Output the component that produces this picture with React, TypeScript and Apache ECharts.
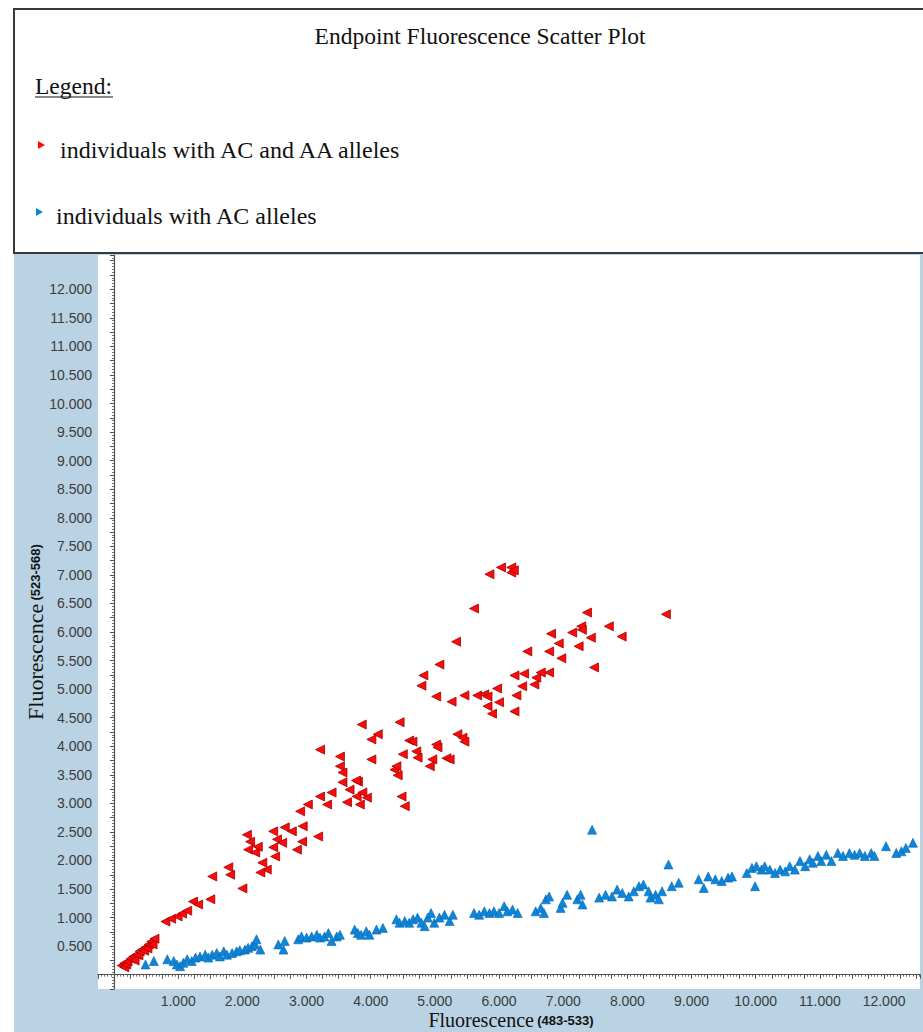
import React, { useEffect, useRef } from "react";
import * as echarts from "echarts";

// Fluorescence values (raw units; labels use "." as thousands separator)
const acAaPoints: [number, number][] = [
  [120,160],[160,130],[160,200],[190,180],[210,230],[260,280],[300,320],[320,250],[350,350],[380,340],[400,410],[440,440],[470,420],[490,480],[520,460],[540,530],[580,580],[600,530],[630,630],
  [800,930],[890,980],[990,1020],[1060,1070],[1140,1120],[1230,1280],[1310,1230],[1500,1320],
  [1530,1720],[1780,1880],[1810,1750],[2000,1510],
  [2070,2450],[2120,2330],[2090,2190],[2200,2140],[2240,2240],[2310,1960],[2380,1840],[2280,1790],
  [2480,2510],[2540,2370],[2480,2230],[2510,2070],[2620,2310],[2660,2580],[2770,2510],[2850,2190],[2930,2330],[2940,2600],[2900,2860],[3020,2980],[3180,2420],
  [3210,3940],[3210,3120],[3320,2980],[3390,3190],[3520,3820],[3520,3650],[3560,3370],[3630,3020],[3670,3240],[3800,3380],[3780,3120],[3830,2980],[3940,3100],[3560,3540],
  [3860,4380],[4010,4120],[4110,4210],[4010,3770],[4370,3590],[4420,3490],[4400,3650],[4450,4420],[4500,3860],[4600,4100],[4650,4080],[4710,3910],[4730,3800],[4480,3120],[4530,2950],[3770,3400],[3870,3190],
  [5020,4030],[5040,3980],[4960,3770],[4920,3650],[5180,3790],[5230,3770],[5350,4210],[5430,4150],[5460,4080],
  [4820,5240],[4790,5060],[5070,5430],[5330,5830],[5610,6410],[5850,7010],[6030,7130],[6190,7130],[6190,7040],[6230,7080],
  [5020,4870],[5260,4780],[5460,4890],[5660,4890],[5770,4910],[5820,4870],[5970,5010],[5820,4700],[5890,4570],[6000,4770],[6240,4610],[6270,4890],[6240,5240],[6390,5270],[6360,5050],[6550,5080],[6580,5200],[6650,5290],[6780,5290],
  [6440,5660],[6780,5660],[6930,5800],[6970,5540],[6810,5970],[7140,5990],[7280,6100],[7290,6040],[7240,5750],[7430,5900],[7370,6340],[7480,5380],[7710,6100],[7910,5920],[8600,6310]
];

const acPoints: [number, number][] = [
  [490,180],[620,240],[830,270],[930,240],[980,180],[1030,150],[1080,210],[1140,270],[1210,240],[1270,300],[1340,320],[1420,350],[1470,300],[1530,350],[1600,380],[1650,320],[1710,410],[1760,350],[1840,380],[1910,410],[1960,430],[2040,440],[2090,470],[2150,500],[2200,530],[2220,620],[2280,440],
  [2560,530],[2640,440],[2660,590],
  [2870,620],[2920,670],[3000,650],[3080,670],[3160,700],[3210,650],[3280,670],[3340,730],[3390,590],[3470,670],[3520,700],
  [3750,790],[3800,730],[3850,700],[3930,760],[3980,700],[4090,790],[4190,820],
  [4400,970],[4450,910],[4530,940],[4600,910],[4660,970],[4730,1000],[4790,910],[4840,850],[4890,1000],[4940,1080],[4990,910],[5070,1000],[5150,1050],[5230,940],[5280,1050],
  [5610,1080],[5690,1050],[5770,1110],[5850,1080],[5920,1110],[6000,1080],[6080,1200],[6130,1110],[6210,1140],[6290,1080],
  [6570,1110],[6650,1170],[6700,1080],[6730,1320],[6780,1370],
  [6960,1170],[6990,1260],[7060,1400],[7220,1320],[7270,1400],[7300,1230],
  [7450,2540],
  [7560,1350],[7660,1400],[7760,1370],[7840,1490],[7920,1430],[8020,1370],[8100,1460],[8180,1550],[8250,1580],[8330,1460],[8360,1350],[8440,1400],[8490,1320],[8540,1460],[8640,1930],[8690,1550],[8800,1610],
  [9110,1670],[9190,1520],[9260,1720],[9370,1670],[9470,1640],[9570,1700],[9630,1720],
  [9860,1780],[9940,1870],[10010,1900],[9990,1550],[10090,1840],[10140,1900],[10220,1840],[10300,1780],[10380,1840],[10460,1810],[10530,1900],[10610,1840],[10690,1990],[10770,1900],[10840,2020],[10890,1960],[10970,2080],[11020,1990],[11100,2100],[11180,1990],[11280,2130],[11360,2080],[11460,2130],[11540,2100],[11620,2130],[11700,2080],[11800,2130],[11850,2080],
  [12030,2250],[12190,2130],[12270,2160],[12340,2220],[12450,2310]
];

const seriesNames = ["individuals with AC and AA alleles", "individuals with AC alleles"];
const chartTitle = "Endpoint Fluorescence Scatter Plot";
const xAxisTitle = ["Fluorescence", "(483-533)"];
const yAxisTitle = ["Fluorescence", "(523-568)"];
const xLabelStep = 1000;
const xLabelMax = 12000;
const yLabelStep = 500;
const yLabelMax = 12000;

const fmt = (v: number) => (v / 1000).toFixed(3);

export default function App() {
  const ref = useRef<HTMLDivElement>(null);
  useEffect(() => {
    if (!ref.current) return;
    const chart = echarts.init(ref.current, null, { renderer: "svg" });
    const serif = "'Liberation Serif', 'Times New Roman', serif";
    const sans = "'Liberation Sans', Arial, sans-serif";
    const labelStyle = { color: "#3c3c3c", fontSize: 14, fontFamily: sans };
    chart.setOption({
      animation: false,
      backgroundColor: "#b9d3e4",
      grid: {
        left: 98, top: 255, width: 825, height: 734,
        show: true, backgroundColor: "#ffffff", borderWidth: 0,
      },
      xAxis: {
        type: "value", min: -250, max: 12560, interval: 250,
        splitLine: { show: false },
        axisLine: { show: true, lineStyle: { color: "#505050", width: 1.2 } },
        axisTick: { show: true, length: 4, lineStyle: { color: "#505050" } },
        minorTick: { show: true, splitNumber: 5, length: 2, lineStyle: { color: "#707070" } },
        axisLabel: {
          ...labelStyle, margin: 5,
          formatter: (v: number) => (v > 0 && v <= xLabelMax && v % xLabelStep === 0 ? fmt(v) : ""),
        },
      },
      yAxis: {
        type: "value", min: -250, max: 12600, interval: 250,
        splitLine: { show: false },
        axisLine: { show: true, lineStyle: { color: "#505050", width: 1.2 } },
        axisTick: { show: true, length: 4, lineStyle: { color: "#505050" } },
        minorTick: { show: true, splitNumber: 5, length: 2, lineStyle: { color: "#707070" } },
        axisLabel: {
          ...labelStyle, margin: 6,
          formatter: (v: number) => (v > 0 && v <= yLabelMax && v % yLabelStep === 0 ? fmt(v) : ""),
        },
      },
      series: [
        {
          name: seriesNames[0], type: "scatter", data: acAaPoints,
          symbol: "triangle", symbolRotate: 90, symbolSize: 9,
          itemStyle: { color: "#ff0a0a", borderColor: "#a00000", borderWidth: 0.8, opacity: 1 },
        },
        {
          name: seriesNames[1], type: "scatter", data: acPoints,
          symbol: "triangle", symbolSize: 9,
          itemStyle: { color: "#0b86da", borderColor: "#0a64b0", borderWidth: 0.6, opacity: 1 },
        },
      ],
      graphic: [
        { type: "rect", shape: { x: 0, y: 0, width: 14, height: 1032 }, style: { fill: "#ffffff" } },
        { type: "rect", shape: { x: 0, y: 0, width: 923, height: 9 }, style: { fill: "#ffffff" } },
        { type: "rect", shape: { x: 14, y: 9, width: 920, height: 244 }, style: { fill: "#ffffff", stroke: "#3a3a3a", lineWidth: 2 } },
        { type: "text", x: 480, y: 36, style: { text: chartTitle, fontFamily: serif, fontSize: 23.5, fill: "#111", align: "center", verticalAlign: "middle" } },
        { type: "text", x: 35, y: 86, style: { text: "Legend:", fontFamily: serif, fontSize: 23.5, fill: "#111", align: "left", verticalAlign: "middle" } },
        { type: "line", shape: { x1: 35, y1: 97, x2: 113, y2: 97 }, style: { stroke: "#111", lineWidth: 1.2 } },
        { type: "polygon", shape: { points: [[38, 141], [45, 145], [38, 149]] }, style: { fill: "#ff0a0a" } },
        { type: "text", x: 60, y: 150, style: { text: seriesNames[0], fontFamily: serif, fontSize: 24, fill: "#111", align: "left", verticalAlign: "middle" } },
        { type: "polygon", shape: { points: [[36, 208], [43, 212], [36, 216]] }, style: { fill: "#0b86da" } },
        { type: "text", x: 56, y: 216, style: { text: seriesNames[1], fontFamily: serif, fontSize: 24, fill: "#111", align: "left", verticalAlign: "middle" } },
        {
          type: "text", x: 511, y: 1020,
          style: {
            text: `{a|${xAxisTitle[0]}} {b|${xAxisTitle[1]}}`, align: "center", verticalAlign: "middle",
            rich: { a: { fontFamily: serif, fontSize: 20, fill: "#111" }, b: { fontFamily: sans, fontWeight: "bold", fontSize: 13, fill: "#111" } },
          },
        },
        {
          type: "text", x: 35, y: 632, rotation: Math.PI / 2,
          style: {
            text: `{a|${yAxisTitle[0]}} {b|${yAxisTitle[1]}}`, align: "center", verticalAlign: "middle",
            rich: { a: { fontFamily: serif, fontSize: 22, fill: "#111" }, b: { fontFamily: sans, fontWeight: "bold", fontSize: 13, fill: "#111" } },
          },
        },
      ],
    });
    return () => chart.dispose();
  }, []);
  return <div ref={ref} style={{ position: "absolute", left: 0, top: 0, width: 923, height: 1032 }} />;
}
